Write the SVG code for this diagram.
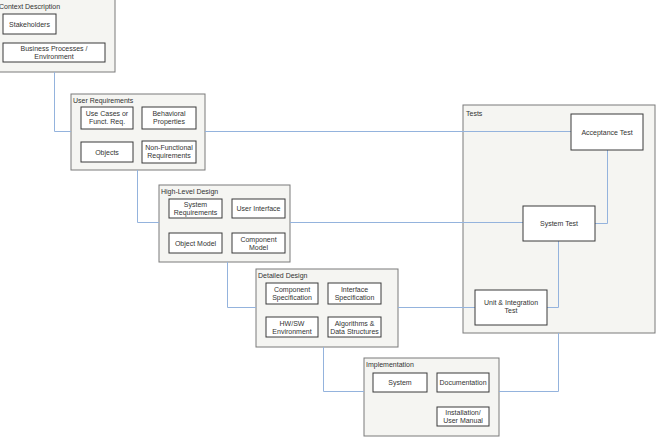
<svg xmlns="http://www.w3.org/2000/svg" width="658" height="439" viewBox="0 0 658 439">
<style>
.c{fill:#f5f5f2;stroke:#7a7a7a;stroke-width:1}
.b{fill:#ffffff;stroke:#3a3a3a;stroke-width:1}
.t{font-family:"Liberation Sans",Arial,sans-serif;font-size:7px;fill:#333}
.m{text-anchor:middle}
.l{fill:none;stroke:#94b3dd;stroke-width:1}
</style>
<rect width="658" height="439" fill="#ffffff"/>
<g id="context">
<rect class="c" x="-2" y="-2" width="117" height="74"/>
<text class="t" x="-1" y="9">Context Description</text>
</g>
<g id="userreq">
<rect class="c" x="71" y="94" width="134" height="76"/>
<text class="t" x="73" y="103">User Requirements</text>
</g>
<g id="hld">
<rect class="c" x="159" y="185" width="131" height="77"/>
<text class="t" x="161" y="194">High-Level Design</text>
</g>
<g id="dd">
<rect class="c" x="256" y="269" width="142" height="78"/>
<text class="t" x="258" y="278">Detailed Design</text>
</g>
<g id="impl">
<rect class="c" x="364" y="358" width="135" height="78"/>
<text class="t" x="366" y="367">Implementation</text>
</g>
<g id="tests">
<rect class="c" x="463" y="105" width="192" height="228"/>
<text class="t" x="466" y="116">Tests</text>
</g>
<g id="connectors">
<polyline class="l" points="54.5,72 54.5,131.5 71,131.5"/>
<line class="l" x1="205" y1="131.5" x2="571" y2="131.5"/>
<polyline class="l" points="137.5,170 137.5,222.5 159,222.5"/>
<line class="l" x1="290" y1="222.5" x2="523" y2="222.5"/>
<polyline class="l" points="227.5,262 227.5,307.5 256,307.5"/>
<line class="l" x1="398" y1="307.5" x2="475" y2="307.5"/>
<polyline class="l" points="323.5,347 323.5,391.5 364,391.5"/>
<polyline class="l" points="499,391.5 558.5,391.5 558.5,333"/>
<polyline class="l" points="607.5,150 607.5,223.5 595,223.5"/>
<polyline class="l" points="558.5,241 558.5,307.5 547,307.5"/>
</g>
<g id="stakeholders"><rect class="b" x="3" y="14" width="53" height="20"/><text class="t m" x="29.5" y="26.5">Stakeholders</text></g>
<g id="business"><rect class="b" x="3" y="43" width="102" height="19"/><text class="t m" x="54" y="51">Business Processes /</text><text class="t m" x="54" y="59">Environment</text></g>
<g id="usecases"><rect class="b" x="81" y="107" width="52" height="22"/><text class="t m" x="107" y="116">Use Cases or</text><text class="t m" x="107" y="124">Funct. Req.</text></g>
<g id="behavioral"><rect class="b" x="142" y="107" width="54" height="22"/><text class="t m" x="169" y="116">Behavioral</text><text class="t m" x="169" y="124">Properties</text></g>
<g id="objects"><rect class="b" x="81" y="142" width="52" height="20"/><text class="t m" x="107" y="154.5">Objects</text></g>
<g id="nonfunc"><rect class="b" x="142" y="141" width="54" height="22"/><text class="t m" x="169" y="150">Non-Functional</text><text class="t m" x="169" y="158">Requirements</text></g>
<g id="sysreq"><rect class="b" x="169" y="199" width="53" height="19"/><text class="t m" x="195.5" y="207">System</text><text class="t m" x="195.5" y="215">Requirements</text></g>
<g id="ui"><rect class="b" x="232" y="199" width="53" height="19"/><text class="t m" x="258.5" y="211">User Interface</text></g>
<g id="objmodel"><rect class="b" x="169" y="233" width="53" height="20"/><text class="t m" x="195.5" y="245.5">Object Model</text></g>
<g id="compmodel"><rect class="b" x="232" y="233" width="53" height="20"/><text class="t m" x="258.5" y="241.5">Component</text><text class="t m" x="258.5" y="249.5">Model</text></g>
<g id="compspec"><rect class="b" x="266" y="283" width="52" height="21"/><text class="t m" x="292" y="291.5">Component</text><text class="t m" x="292" y="299.5">Specification</text></g>
<g id="ifspec"><rect class="b" x="328" y="283" width="53" height="21"/><text class="t m" x="354.5" y="291.5">Interface</text><text class="t m" x="354.5" y="299.5">Specification</text></g>
<g id="hwsw"><rect class="b" x="266" y="317" width="52" height="20"/><text class="t m" x="292" y="325.5">HW/SW</text><text class="t m" x="292" y="333.5">Environment</text></g>
<g id="algo"><rect class="b" x="328" y="317" width="53" height="20"/><text class="t m" x="354.5" y="325.5">Algorithms &amp;</text><text class="t m" x="354.5" y="333.5">Data Structures</text></g>
<g id="system"><rect class="b" x="373" y="373" width="54" height="19"/><text class="t m" x="400" y="385">System</text></g>
<g id="docs"><rect class="b" x="437" y="373" width="52" height="19"/><text class="t m" x="463" y="385">Documentation</text></g>
<g id="install"><rect class="b" x="437" y="407" width="52" height="19"/><text class="t m" x="463" y="415">Installation/</text><text class="t m" x="463" y="423">User Manual</text></g>
<g id="acceptance"><rect class="b" x="571" y="114" width="72" height="36"/><text class="t m" x="607" y="134.5">Acceptance Test</text></g>
<g id="systemtest"><rect class="b" x="523" y="206" width="72" height="35"/><text class="t m" x="559" y="226">System Test</text></g>
<g id="unittest"><rect class="b" x="475" y="290" width="72" height="35"/><text class="t m" x="511" y="305">Unit &amp; Integration</text><text class="t m" x="511" y="313">Test</text></g>
</svg>
